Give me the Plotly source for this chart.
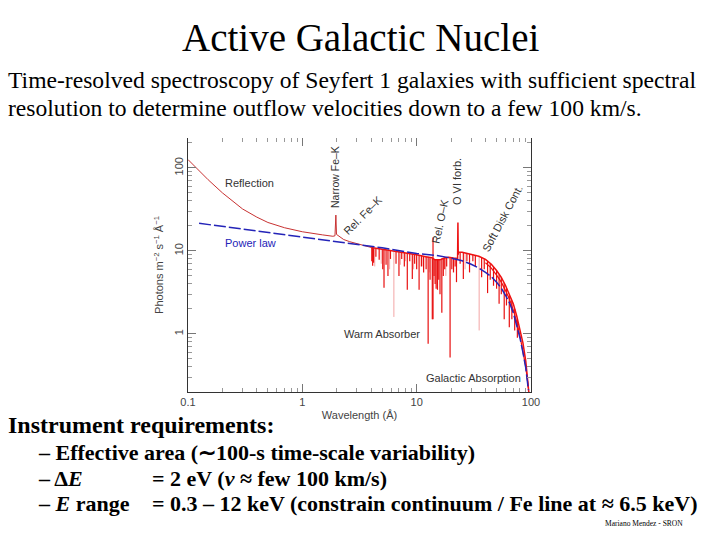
import plotly.graph_objects as go

# ---------------- data ----------------
# reflection-dominated total model (0.1 - 4 A), incl. narrow Fe-K line
refl_lam = [0.1, 0.12, 0.15, 0.2, 0.3, 0.4, 0.5, 0.7, 1.0, 1.5, 1.85, 1.93, 1.965, 1.99, 2.05, 2.3, 2.6, 3.0, 3.5, 4.0]
refl_flux = [126, 98, 72, 50, 32, 25.5, 22, 19, 17, 15.6, 15.0, 15.2, 27, 15.8, 15.3, 13.7, 12.9, 12.3, 11.6, 11.0]

# absorbed total model continuum (4 - 96 A), incl. O VII forbidden emission
abs_lam = [4.0, 5, 6, 8, 10, 12, 13.5, 14.5, 16, 17.5, 19, 21, 22.6, 22.8, 22.95, 23.1, 23.3, 25, 30, 35, 40, 45, 50, 55, 60, 65, 70, 75, 80, 85, 90, 93, 96]
abs_flux = [11.0, 10.5, 10.0, 9.5, 9.0, 8.5, 8.3, 7.8, 7.8, 8.2, 8.4, 8.2, 8.0, 8.1, 22, 9.0, 9.7, 9.6, 9.1, 8.6, 7.9, 6.9, 5.8, 4.8, 3.8, 3.0, 2.3, 1.65, 1.15, 0.78, 0.47, 0.30, 0.19]

# lower strand of the absorbed model at long wavelengths
strand_lam = [40, 45, 50, 55, 60, 65, 70, 75, 80, 85, 90, 95]
strand_flux = [7.2, 6.2, 5.1, 4.2, 3.3, 2.6, 1.95, 1.4, 0.95, 0.62, 0.40, 0.22]

# power law (with galactic absorption roll-off)
pl_lam = [0.125, 1, 5, 10, 15, 20, 25, 30, 35, 40, 45, 50, 55, 60, 65, 70, 75, 80, 85, 90, 95]
pl_flux = [21.5, 14.5, 10.9, 9.3, 8.8, 8.2, 7.6, 6.9, 6.2, 5.5, 4.9, 4.2, 3.55, 2.9, 2.35, 1.8, 1.3, 0.9, 0.6, 0.39, 0.21]

# absorption lines (warm absorber): wavelength, continuum top, line bottom
line_lam = [4.05, 4.12, 4.2, 4.4, 4.7, 5.05, 5.18, 5.4, 5.61, 5.9, 6.6, 7.0, 7.4, 7.8, 8.28, 8.7, 9.16, 9.6, 10.0, 10.5,
            11.0, 11.5, 12.1, 12.6, 13.1, 13.7, 13.9, 14.2, 14.5, 14.8, 15.2, 15.6, 16.0, 16.6, 17.1, 17.6, 18.3, 19.6, 20.3, 21.0,
            21.7, 22.3, 24.0, 25.6, 27.5, 29.0, 31.0, 32.6, 37.0, 39.0, 41.7, 44.0, 47.0, 50.0, 52.6, 55.0, 58.3, 61.0, 64.6, 68.0,
            72.0, 76.0]
line_top = [10.9, 10.9, 10.8, 10.7, 10.6, 10.4, 10.4, 10.3, 10.2, 10.1, 9.9, 9.8, 9.7, 9.6, 9.5, 9.4, 9.2, 9.1, 9.0, 8.9,
            8.8, 8.7, 8.6, 8.5, 8.4, 8.3, 14.5, 8.0, 7.8, 7.8, 7.8, 7.9, 8.0, 8.1, 8.2, 8.3, 8.4, 8.4, 8.3, 8.2,
            8.1, 8.0, 9.6, 9.5, 9.3, 9.2, 9.0, 8.9, 8.4, 8.0, 7.6, 7.1, 6.4, 5.8, 5.2, 4.8, 4.1, 3.6, 2.9, 2.5,
            2.0, 1.5]
line_bot = [7.5, 6.6, 7.2, 8.5, 7.8, 6.0, 3.6, 6.8, 5.0, 8.0, 7.0, 5.0, 8.0, 6.5, 3.4, 7.5, 4.6, 7.0, 6.0, 3.4,
            6.5, 5.5, 6.0, 0.76, 4.5, 1.5, 1.5, 5.0, 4.0, 3.5, 3.4, 4.5, 3.0, 1.8, 5.0, 6.0, 6.5, 0.52, 6.0, 5.5,
            6.5, 4.2, 7.0, 4.6, 7.5, 5.5, 7.5, 6.5, 4.8, 6.0, 3.1, 4.5, 3.8, 3.5, 2.3, 3.0, 1.5, 2.2, 1.2, 1.5,
            1.1, 0.9]

# faint (pale) absorption lines
pale_lam = [4.3, 4.9, 5.8, 6.32, 7.2, 8.0, 9.4, 11.3, 12.9, 18.0, 26.5, 35.2]
pale_top = [10.7, 10.5, 10.1, 10.0, 9.7, 9.5, 9.1, 8.7, 8.4, 8.4, 9.4, 8.6]
pale_bot = [6.5, 7.0, 6.0, 1.6, 6.8, 7.5, 6.0, 6.5, 5.5, 5.0, 6.0, 1.1]

x_major = [0.1, 1, 10, 100]
x_major_txt = ["0.1", "1", "10", "100"]
y_major = [1, 10, 100]
y_major_txt = ["1", "10", "100"]


def minors(decades):
    out = []
    for d in decades:
        out += [m * d for m in range(2, 10)]
    return out


def segs(xs, tops, bots):
    X, Y = [], []
    for x, t, b in zip(xs, tops, bots):
        X += [x, x, None]
        Y += [t, b, None]
    return X, Y


fig = go.Figure()
px, py = segs(pale_lam, pale_top, pale_bot)
fig.add_trace(go.Scatter(x=px, y=py, mode="lines", line=dict(color="#f3a6a6", width=1), hoverinfo="skip"))
lx, ly = segs(line_lam, line_top, line_bot)
fig.add_trace(go.Scatter(x=lx, y=ly, mode="lines", line=dict(color="#e81010", width=1.2), hoverinfo="skip"))
fig.add_trace(go.Scatter(x=refl_lam, y=refl_flux, mode="lines", line=dict(color="#c83232", width=1)))
fig.add_trace(go.Scatter(x=abs_lam, y=abs_flux, mode="lines", line=dict(color="#ee1111", width=1.5)))
fig.add_trace(go.Scatter(x=strand_lam, y=strand_flux, mode="lines", line=dict(color="#ee1111", width=1.2)))
fig.add_trace(go.Scatter(x=pl_lam, y=pl_flux, mode="lines", line=dict(color="#2424b8", width=1.5, dash="12px,3px")))
# dummy trace for the top tick axis
fig.add_trace(go.Scatter(x=[1], y=[1], xaxis="x2", mode="markers", marker=dict(opacity=0), hoverinfo="skip"))

AX = "#333333"
tickfont = dict(family="Liberation Sans, Arial, sans-serif", size=11, color="#444")
fig.update_layout(
    width=720, height=540, autosize=False,
    margin=dict(l=188, r=189, t=138, b=148),
    paper_bgcolor="white", plot_bgcolor="white",
    showlegend=False,
    xaxis=dict(type="log", range=[-1, 2], showgrid=False, zeroline=False,
               showline=True, linecolor=AX, linewidth=1.2,
               tickvals=x_major, ticktext=x_major_txt, ticks="inside", ticklen=8,
               tickcolor="#777", tickfont=tickfont,
               minor=dict(tickvals=minors([0.1, 1, 10]), ticks="inside", ticklen=4, tickcolor="#999"),
               title=dict(text="Wavelength (Å)", font=dict(family="Liberation Sans, Arial, sans-serif", size=11, color="#444"), standoff=4)),
    xaxis2=dict(type="log", range=[-1, 2], overlaying="x", side="top", showgrid=False, zeroline=False,
                showline=False, tickvals=x_major, ticks="inside", ticklen=8, tickcolor="#777",
                showticklabels=False,
                minor=dict(tickvals=minors([0.1, 1, 10]), ticks="inside", ticklen=4, tickcolor="#999")),
    yaxis=dict(type="log", range=[-0.70, 2.36], showgrid=False, zeroline=False,
               showline=True, linecolor=AX, linewidth=1.2, mirror="ticks",
               tickvals=y_major, ticktext=y_major_txt, ticks="inside", ticklen=8,
               tickcolor="#777", tickfont=tickfont, tickangle=-90,
               minor=dict(tickvals=minors([0.1, 1, 10, 100]), ticks="inside", ticklen=4, tickcolor="#999"),
               title=dict(text="Photons m<sup>−2</sup> s<sup>−1</sup> Å<sup>−1</sup>",
                          font=dict(family="Liberation Sans, Arial, sans-serif", size=11, color="#444"), standoff=6)),
)

L, R, T, B = 188, 531, 138, 392


def P(x, y):
    return (x - L) / (R - L), (B - y) / (B - T)


anns = []


def txt(x, y, s, size, color="black", family="Liberation Serif, Times New Roman, serif", xanchor="left", angle=0):
    X, Y = P(x, y)
    anns.append(dict(x=X, y=Y, xref="paper", yref="paper", text=s, showarrow=False,
                     xanchor=xanchor, yanchor="middle", textangle=angle,
                     font=dict(family=family, size=size, color=color)))


# slide texts
txt(360, 37, "Active Galactic Nuclei", 39, xanchor="center")
txt(6, 80, "Time-resolved spectroscopy of Seyfert 1 galaxies with sufficient spectral", 23.6)
txt(6, 108, "resolution to determine outflow velocities down to a few 100 km/s.", 23.6)
txt(6, 425, "<b>Instrument requirements:</b>", 24)
txt(36, 452, "<b>– Effective area (∼100-s time-scale variability)</b>", 22)
txt(36, 478, "<b>– Δ<i>E</i></b>", 22)
txt(150, 478, "<b>= 2 eV (<i>v</i> ≈ few 100 km/s)</b>", 22)
txt(36, 503, "<b>– <i>E</i> range</b>", 22)
txt(150, 503, "<b>= 0.3 – 12 keV (constrain continuum / Fe line at ≈ 6.5 keV)</b>", 22)
txt(644, 523, "Mariano Mendez - SRON", 7.5, xanchor="center")

# chart annotations
sans = "Liberation Sans, Arial, sans-serif"
txt(223, 183, "Reflection", 11, color="#333", family=sans)
txt(223, 243, "Power law", 11, color="#2424b8", family=sans)
txt(342, 334, "Warm Absorber", 11, color="#333", family=sans)
txt(424, 378, "Galactic Absorption", 11, color="#333", family=sans)
txt(335, 177, "Narrow Fe–K", 10.5, color="#333", family=sans, xanchor="center", angle=-90)
txt(363, 215, "Rel. Fe–K", 11, color="#333", family=sans, xanchor="center", angle=-45)
txt(440, 222, "Rel. O–K", 11, color="#333", family=sans, xanchor="center", angle=-78)
txt(457, 182, "O VI forb.", 11, color="#333", family=sans, xanchor="center", angle=-90)
txt(502, 219, "Soft Disk Cont.", 11, color="#333", family=sans, xanchor="center", angle=-62)

fig.update_layout(annotations=anns)
fig.write_html("out.html")
